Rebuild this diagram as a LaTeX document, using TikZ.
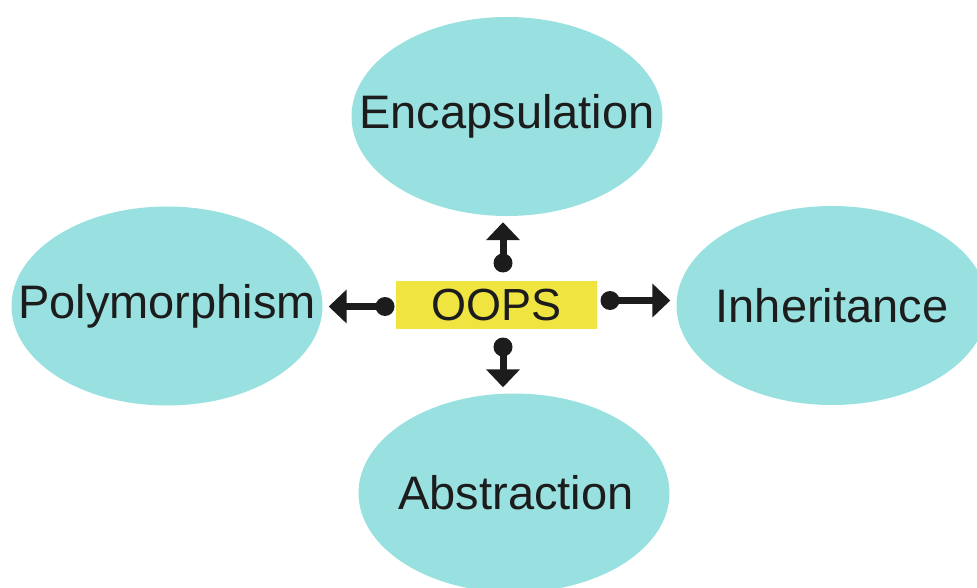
\documentclass[tikz,border=0pt]{standalone}
\usepackage{fontspec}
\setmainfont{Liberation Sans}
\usetikzlibrary{shapes.geometric,arrows.meta}
\definecolor{bubble}{RGB}{153,225,224}
\definecolor{boxyellow}{RGB}{240,228,64}
\definecolor{ink}{RGB}{28,28,28}
\tikzset{
  bub/.style={ellipse, fill=bubble, draw=none, inner sep=0pt,
    minimum width=311pt, minimum height=199pt},
  every label/.style={font=\fontsize{47}{56}\selectfont, text=ink, inner sep=0pt},
  centre/.style={fill=boxyellow, inner sep=0pt, minimum width=201pt, minimum height=48pt,
    font=\fontsize{45}{54}\selectfont, text=ink},
  conn/.style={draw=ink, line width=7pt, -{Triangle[width=33pt,length=18pt]}, shorten >=6pt},
  dot/.style={fill=ink},
}
\begin{document}
\begin{tikzpicture}[x=1pt,y=-1pt]
\useasboundingbox (0,0) rectangle (977,588);
\node[bub, label={center:Encapsulation}] (enc) at (507,116.5) {};
\node[bub, label={center:Polymorphism}] (poly) at (167,306) {};
\node[bub, label={center:Inheritance}] (inh) at (832,305.5) {};
\node[bub, label={[xshift=2pt]center:Abstraction}] (abs) at (514,493) {};
\node[centre] (oops) at (496.5,305) {OOPS};
% dot positions
\coordinate (du) at (503,263);
\coordinate (dd) at (503,347);
\coordinate (dl) at (385,306.5);
\coordinate (dr) at (610,300.5);
\draw[conn] (du) -- (du |- enc.south);
\draw[conn] (dd) -- (dd |- abs.north);
\draw[conn] (dl) -- (dl -| poly.east);
\draw[conn] (dr) -- (dr -| inh.west);
\foreach \p in {du,dd,dl,dr} \fill[dot] (\p) circle (9.5);
\end{tikzpicture}
\end{document}
